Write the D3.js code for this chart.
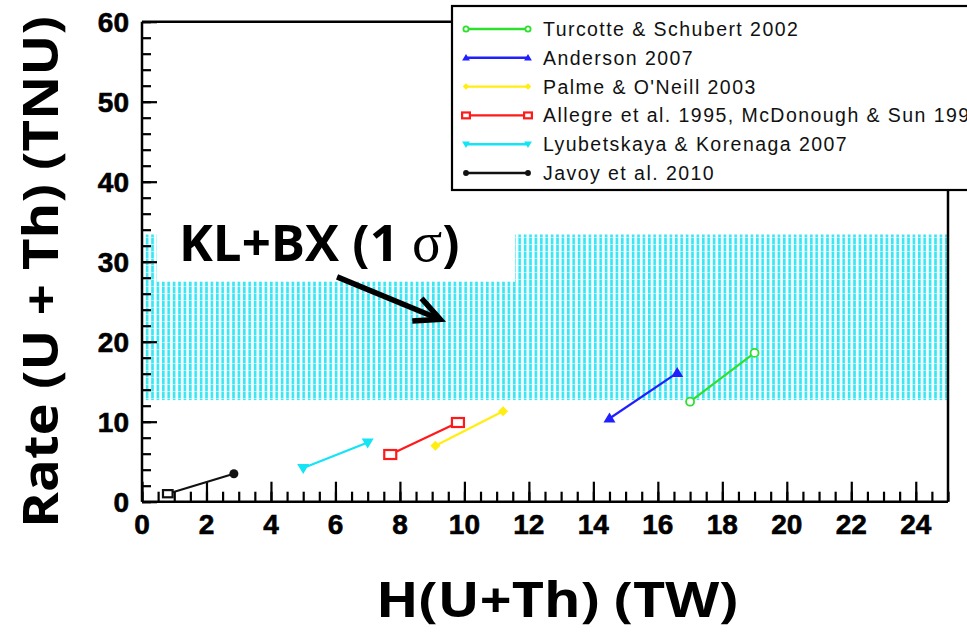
<!DOCTYPE html>
<html><head><meta charset="utf-8">
<script src="https://cdn.jsdelivr.net/npm/d3@7"></script>
<style>html,body{margin:0;padding:0;background:#fff;overflow:hidden}</style>
</head><body>
<svg id="chart" width="967" height="632"></svg>
<script>
// ---- data ----
const seriesNames = ["Turcotte & Schubert 2002","Anderson 2007","Palme & O'Neill 2003",
  "Allegre et al. 1995, McDonough & Sun 1995","Lyubetskaya & Korenaga 2007","Javoy et al. 2010"];
const seriesColors = ["#2ee02e","#2020ff","#ffee10","#ff1a1a","#14e4f4","#111111"];
const seriesMarkers = ["circleOpen","triangleUp","diamond","squareOpen","triangleDown","circle"];
const seriesX = [[17.0,19.0],[14.5,16.6],[9.1,11.2],[7.7,9.8],[5.0,7.0],[0.8,2.85]];
const seriesY = [[12.5,18.6],[10.4,16.1],[7.0,11.3],[5.9,9.9],[4.2,7.4],[1.0,3.5]];
const bandX = [0,25];
const bandY = [12.7,33.4];
const coverX = [0.46,11.57];      // white label box hiding part of the band
const coverYBottom = 27.5;
const arrowFrom = [6.05,28.1];
const arrowTo = [9.25,22.8];
const xMajor = [0,2,4,6,8,10,12,14,16,18,20,22,24];
const yMajor = [0,10,20,30,40,50,60];
const xDomain = [0,25], yDomain = [0,60];
const xTitle = "H(U+Th) (TW)";
const yTitle = "Rate (U + Th) (TNU)";

// ---- layout ----
const svg = d3.select("#chart");
const L = 142, R = 948, T = 21.7, B = 501.7;
const x = d3.scaleLinear().domain(xDomain).range([L,R]);
const y = d3.scaleLinear().domain(yDomain).range([B,T]);

// hatch pattern
const defs = svg.append("defs");
const pat = defs.append("pattern").attr("id","hatch").attr("patternUnits","userSpaceOnUse")
  .attr("width",5.4).attr("height",7);
pat.append("rect").attr("width",5.4).attr("height",7).attr("fill","#f6feff");
pat.append("rect").attr("x",0).attr("width",2.6).attr("height",6).attr("fill","#3ae6f4");
pat.append("rect").attr("x",0).attr("y",6).attr("width",2.6).attr("height",1).attr("fill","#9ef2f9");

// band
svg.append("rect").attr("x",x(bandX[0])).attr("y",y(bandY[1]))
  .attr("width",x(bandX[1])-x(bandX[0])).attr("height",y(bandY[0])-y(bandY[1]))
  .attr("fill","url(#hatch)");
svg.append("rect").attr("x",x(coverX[0])).attr("y",y(bandY[1])-4)
  .attr("width",x(coverX[1])-x(coverX[0])).attr("height",y(coverYBottom)-y(bandY[1])+4)
  .attr("fill","#fff");

// frame
svg.append("line").attr("x1",L).attr("x2",R).attr("y1",T).attr("y2",T).attr("stroke","#000").attr("stroke-width",2.5);
svg.append("line").attr("x1",R).attr("x2",R).attr("y1",T).attr("y2",B).attr("stroke","#000").attr("stroke-width",2.5);

// x axis (ticks pointing inward)
const xAxisMinor = d3.axisTop(x).tickValues(d3.range(0,25.01,0.5)).tickSize(10).tickFormat("");
const xAxisMajor = d3.axisTop(x).tickValues(xMajor).tickSize(20).tickFormat("");
[xAxisMinor,xAxisMajor].forEach(ax=>{
  const g = svg.append("g").attr("transform",`translate(0,${B})`).call(ax);
  g.select(".domain").remove();
  g.selectAll("line").attr("stroke","#000").attr("stroke-width",2.2);
});
svg.append("g").selectAll("text").data(xMajor).join("text")
  .attr("x",d=>x(d)).attr("y",B+32).attr("text-anchor","middle")
  .attr("font-family","Liberation Sans, Arial, sans-serif").attr("font-weight","bold")
  .attr("font-size",28).attr("fill","#000").attr("stroke","#000").attr("stroke-width",0.6).text(d=>d);

// y axis
const yAxisMinor = d3.axisRight(y).tickValues(d3.range(0,60.01,2)).tickSize(9).tickFormat("");
const yAxisMajor = d3.axisRight(y).tickValues(yMajor).tickSize(15).tickFormat("");
[yAxisMinor,yAxisMajor].forEach(ax=>{
  const g = svg.append("g").attr("transform",`translate(${L},0)`).call(ax);
  g.select(".domain").remove();
  g.selectAll("line").attr("stroke","#000").attr("stroke-width",2.2);
});
svg.append("line").attr("x1",L).attr("x2",L).attr("y1",T).attr("y2",B).attr("stroke","#000").attr("stroke-width",2.5);
svg.append("line").attr("x1",L).attr("x2",R).attr("y1",B).attr("y2",B).attr("stroke","#000").attr("stroke-width",2.5);
svg.append("g").selectAll("text").data(yMajor).join("text")
  .attr("x",L-13).attr("y",d=>y(d)+10).attr("text-anchor","end")
  .attr("font-family","Liberation Sans, Arial, sans-serif").attr("font-weight","bold")
  .attr("font-size",28).attr("fill","#000").attr("stroke","#000").attr("stroke-width",0.6).text(d=>d);

// markers
function marker(g, type, color, cx, cy, s){
  s = s || 1;
  if(type==="circleOpen") g.append("circle").attr("cx",cx).attr("cy",cy).attr("r",4*s).attr("fill","#fff").attr("stroke",color).attr("stroke-width",1.8);
  else if(type==="circle") g.append("circle").attr("cx",cx).attr("cy",cy).attr("r",4.5*s).attr("fill",color);
  else if(type==="squareOpen") g.append("rect").attr("x",cx-6*s).attr("y",cy-4.5*s).attr("width",12*s).attr("height",9*s).attr("fill","#fff").attr("stroke",color).attr("stroke-width",2.2);
  else if(type==="diamond") g.append("path").attr("d",`M${cx},${cy-5*s}L${cx+5*s},${cy}L${cx},${cy+5*s}L${cx-5*s},${cy}Z`).attr("fill",color);
  else if(type==="triangleUp") g.append("path").attr("d",`M${cx},${cy-6*s}L${cx+6*s},${cy+4*s}L${cx-6*s},${cy+4*s}Z`).attr("fill",color);
  else if(type==="triangleDown") g.append("path").attr("d",`M${cx},${cy+6*s}L${cx+6*s},${cy-4*s}L${cx-6*s},${cy-4*s}Z`).attr("fill",color);
}
const line = d3.line().x(d=>x(d[0])).y(d=>y(d[1]));
seriesNames.forEach((name,i)=>{
  const pts = seriesX[i].map((v,j)=>[v,seriesY[i][j]]);
  const g = svg.append("g");
  g.append("path").attr("d",line(pts)).attr("fill","none").attr("stroke",seriesColors[i]).attr("stroke-width",2.2);
  pts.forEach((p,j)=>{
    const t = (i===5 && j===0) ? "squareOpen" : seriesMarkers[i];
    marker(g, t, seriesColors[i], x(p[0]), y(p[1]), (i===5 && j===0) ? 0.8 : 1);
  });
});

// annotation
const ann = svg.append("text").attr("x",179).attr("y",261)
  .attr("font-family","Open Sans, Lato, sans-serif").attr("font-weight","bold").attr("font-size",51).attr("fill","#000");
ann.append("tspan").text("KL+BX (1 ");
ann.append("tspan").attr("font-family","Liberation Serif, DejaVu Serif, serif").attr("font-weight","normal").attr("font-size",56).text("σ");
ann.append("tspan").text(")");
const ax0 = x(arrowFrom[0]), ay0 = y(arrowFrom[1]), ax1 = x(arrowTo[0]), ay1 = y(arrowTo[1]);
svg.append("line").attr("x1",ax0).attr("y1",ay0).attr("x2",ax1-3).attr("y2",ay1-1).attr("stroke","#000").attr("stroke-width",5.5);
const ang = Math.atan2(ay1-ay0, ax1-ax0), hl = 28, hw = 0.45;
svg.append("path").attr("d",`M${ax1-hl*Math.cos(ang-hw)},${ay1-hl*Math.sin(ang-hw)}L${ax1},${ay1}L${ax1-hl*Math.cos(ang+hw)},${ay1-hl*Math.sin(ang+hw)}`)
  .attr("fill","none").attr("stroke","#000").attr("stroke-width",5.5).attr("stroke-linejoin","miter");

// legend
const lg = svg.append("g");
lg.append("rect").attr("x",452).attr("y",6).attr("width",530).attr("height",184).attr("fill","#fff").attr("stroke","#000").attr("stroke-width",2.2);
seriesNames.forEach((name,i)=>{
  const yy = 29 + i*28.8;
  lg.append("line").attr("x1",466).attr("x2",528).attr("y1",yy).attr("y2",yy).attr("stroke",seriesColors[i]).attr("stroke-width",2.4);
  marker(lg, seriesMarkers[i], seriesColors[i], 466, yy, 0.65);
  marker(lg, seriesMarkers[i], seriesColors[i], 528, yy, 0.65);
  lg.append("text").attr("x",543).attr("y",yy+7).attr("font-family","Liberation Sans, Arial, sans-serif")
    .attr("font-size",19.5).attr("letter-spacing",1.45).attr("fill","#111").text(name);
});

// axis titles
svg.append("text").attr("x",557).attr("y",617).attr("text-anchor","middle")
  .attr("font-family","Open Sans, Lato, sans-serif").attr("font-weight","bold").attr("font-size",48)
  .attr("textLength",362).attr("lengthAdjust","spacingAndGlyphs").text(xTitle);
svg.append("text").attr("transform","translate(58,272) rotate(-90)").attr("text-anchor","middle")
  .attr("font-family","Open Sans, Lato, sans-serif").attr("font-weight","bold").attr("font-size",48)
  .attr("textLength",512).attr("lengthAdjust","spacingAndGlyphs").text(yTitle);
</script>
</body></html>
